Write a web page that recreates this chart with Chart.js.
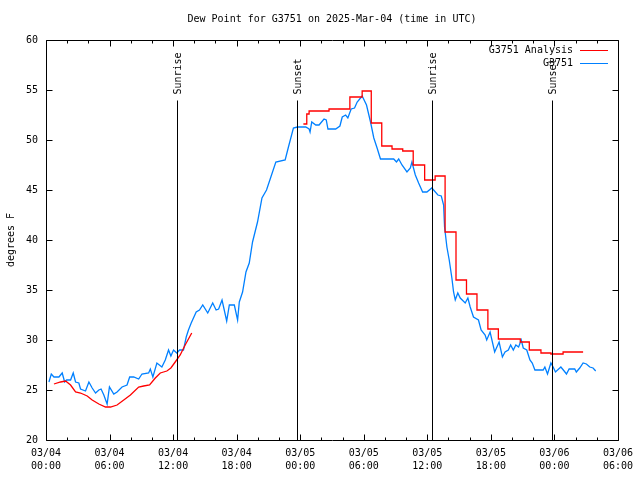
<!DOCTYPE html>
<html><head><meta charset="utf-8">
<script src="https://cdn.jsdelivr.net/npm/chart.js@4/dist/chart.umd.min.js"></script>
<style>html,body{margin:0;padding:0;background:#fff}</style>
</head><body>
<canvas id="c" width="640" height="480"></canvas>
<script>
// ---------- data ----------
const chartTitle = 'Dew Point for G3751 on 2025-Mar-04 (time in UTC)';
const yAxisTitle = 'degrees F';
const seriesNames = ['G3751 Analysis', 'G3751'];
const xTickDates = ['03/04','03/04','03/04','03/04','03/05','03/05','03/05','03/05','03/06','03/06'];
const xTickTimes = ['00:00','06:00','12:00','18:00','00:00','06:00','12:00','18:00','00:00','06:00'];
const sunLabels = ['Sunrise','Sunset','Sunrise','Sunset'];
const sunHours  = [12.33, 23.72, 36.42, 47.79];   // hours since 03/04 00:00 UTC
const sunLineTop = 54;

// observations (hours since 03/04 00:00 UTC, degrees F)
const obsHours = [0.28,0.50,0.75,1.22,1.53,1.76,1.95,2.32,2.57,2.79,3.10,3.26,3.73,4.05,4.36,4.68,4.99,5.20,5.46,5.77,5.99,6.40,6.71,7.18,7.65,7.90,8.28,8.75,9.06,9.69,9.85,10.09,10.47,10.94,11.26,11.57,11.79,12.04,12.35,12.61,12.98,13.24,13.45,13.71,14.18,14.49,14.80,15.27,15.74,16.06,16.30,16.62,17.06,17.31,17.78,18.09,18.25,18.56,18.88,19.19,19.50,19.97,20.39,20.82,21.23,21.70,22.58,22.89,23.36,23.73,24.52,24.84,24.93,25.09,25.47,25.78,26.25,26.46,26.62,27.35,27.75,27.97,28.29,28.50,28.81,29.13,29.38,29.85,30.26,30.64,30.95,31.26,31.58,32.83,33.09,33.30,33.61,34.08,34.40,34.55,34.87,35.18,35.56,35.96,36.43,37.00,37.32,37.54,37.63,37.85,38.07,38.32,38.48,38.64,38.88,39.11,39.58,39.83,40.05,40.36,40.83,41.08,41.46,41.61,41.93,42.36,42.78,43.09,43.34,43.65,43.87,44.12,44.36,44.62,44.87,45.06,45.39,45.69,45.91,46.16,46.94,47.10,47.35,47.67,47.88,48.10,48.61,48.92,49.14,49.39,49.92,50.07,50.39,50.71,51.02,51.34,51.65,51.90];
const obsValues = [25.8,26.6,26.3,26.3,26.7,25.8,26.0,26.0,26.7,25.8,25.7,25.1,24.9,25.8,25.2,24.7,25.0,25.1,24.5,23.6,25.3,24.6,24.8,25.3,25.5,26.3,26.3,26.1,26.6,26.7,27.1,26.3,27.7,27.3,28.0,29.0,28.4,29.0,28.7,29.0,29.0,30.3,31.0,31.7,32.8,33.0,33.5,32.7,33.7,33.0,33.1,34.0,31.9,33.5,33.5,32.0,33.8,34.8,36.8,37.7,39.8,41.8,44.2,45.0,46.3,47.8,48.0,49.3,51.2,51.3,51.3,51.1,50.8,51.8,51.5,51.5,52.1,52.0,51.1,51.1,51.4,52.3,52.5,52.2,53.1,53.2,53.8,54.4,53.5,51.8,50.2,49.2,48.1,48.1,47.8,48.1,47.5,46.8,47.2,47.8,46.5,45.7,44.8,44.8,45.2,44.5,44.4,43.5,41.3,39.3,38.0,36.2,34.8,34.0,34.7,34.2,33.7,34.2,33.3,32.3,32.0,31.0,30.5,30.0,30.8,28.8,29.8,28.3,28.8,29.0,29.5,29.0,29.5,29.3,30.0,29.2,29.0,28.0,27.7,27.0,27.0,27.3,26.6,27.7,27.3,26.8,27.3,26.9,26.6,27.1,27.1,26.8,27.2,27.7,27.6,27.3,27.2,26.9];

// analysis, first (smooth) part
const anaHoursA = [0.75,1.38,1.85,2.32,2.79,3.26,3.89,4.36,4.99,5.62,6.09,6.71,7.34,7.97,8.75,9.22,9.78,10.32,10.79,11.41,11.79,12.20,12.67,13.14,13.76];
const anaValuesA = [25.6,25.8,25.9,25.5,24.8,24.7,24.4,24.0,23.6,23.3,23.3,23.5,24.0,24.5,25.3,25.4,25.5,26.2,26.7,26.9,27.2,27.8,28.5,29.5,30.7];
// analysis, second (stepped) part
const anaHoursB = [24.30,24.62,24.84,26.72,28.69,29.85,30.71,31.70,32.67,33.68,34.67,35.75,36.74,37.68,38.71,39.70,40.69,41.72,42.71,44.78,45.63,46.73,47.67,48.82,50.71];
const anaValuesB = [51.6,52.6,52.9,53.1,54.3,54.9,51.7,49.4,49.1,48.9,47.5,46.0,46.4,40.8,36.0,34.6,33.0,31.1,30.1,29.8,29.0,28.7,28.6,28.8,28.8];

// ---------- style ----------
const FONT = '"DejaVu Sans Mono", "Liberation Mono", monospace';
const RED = '#ff0000';
const BLUE = '#0080ff';
const LW = 1.3;

const toXY = (xs, ys) => xs.map((h, i) => ({x: h, y: ys[i]}));

const decor = {
  id: 'decor',
  afterDatasetsDraw(chart) {
    const {ctx, chartArea: a, scales: {x, y}} = chart;
    ctx.save();
    ctx.strokeStyle = '#000';
    ctx.lineWidth = 1;
    ctx.fillStyle = '#000';
    ctx.font = '10px ' + FONT;
    const L = Math.round(a.left) + 0.5, R = Math.round(a.right) + 0.5;
    const T = Math.round(a.top) + 0.5, B = Math.round(a.bottom) + 0.5;

    // sunrise / sunset lines and labels
    sunHours.forEach((h, i) => {
      const px = Math.round(x.getPixelForValue(h)) + 0.5;
      const top = Math.round(y.getPixelForValue(sunLineTop)) + 0.5;
      ctx.beginPath(); ctx.moveTo(px, B); ctx.lineTo(px, top); ctx.stroke();
      ctx.save();
      ctx.translate(px + 1, top - 6);
      ctx.rotate(-Math.PI / 2);
      ctx.textAlign = 'left'; ctx.textBaseline = 'middle';
      ctx.fillText(sunLabels[i], 0, 0);
      ctx.restore();
    });

    // border
    ctx.beginPath();
    ctx.rect(L, T, R - L, B - T);
    ctx.stroke();

    // x ticks (inward, mirrored)
    ctx.beginPath();
    for (let h = x.min; h <= x.max + 1e-6; h += 2) {
      const px = Math.round(x.getPixelForValue(h)) + 0.5;
      const len = (Math.round(h) % 6 === 0) ? 6 : 3;
      ctx.moveTo(px, B); ctx.lineTo(px, B - len);
      ctx.moveTo(px, T); ctx.lineTo(px, T + len);
    }
    // y ticks
    for (let v = y.min; v <= y.max + 1e-6; v += 5) {
      const py = Math.round(y.getPixelForValue(v)) + 0.5;
      ctx.moveTo(L, py); ctx.lineTo(L + 6, py);
      ctx.moveTo(R, py); ctx.lineTo(R - 6, py);
    }
    ctx.stroke();

    // legend (text then line sample)
    const legendColors = [RED, BLUE];
    seriesNames.forEach((name, i) => {
      const ly = Math.round(a.top) + 10 + i * 13;
      ctx.fillStyle = '#000';
      ctx.textAlign = 'right'; ctx.textBaseline = 'middle';
      ctx.fillText(name, Math.round(a.right) - 45, ly);
      ctx.strokeStyle = legendColors[i];
      ctx.beginPath();
      ctx.moveTo(Math.round(a.right) - 38, ly + 0.5);
      ctx.lineTo(Math.round(a.right) - 10, ly + 0.5);
      ctx.stroke();
    });

    // title
    ctx.fillStyle = '#000';
    ctx.textAlign = 'center'; ctx.textBaseline = 'middle';
    ctx.fillText(chartTitle, (a.left + a.right) / 2, 19);

    // y axis title
    ctx.save();
    ctx.translate(11, (a.top + a.bottom) / 2);
    ctx.rotate(-Math.PI / 2);
    ctx.textAlign = 'center'; ctx.textBaseline = 'middle';
    ctx.fillText(yAxisTitle, 0, 0);
    ctx.restore();

    ctx.restore();
  }
};

new Chart(document.getElementById('c'), {
  type: 'line',
  data: {
    datasets: [
      {label: seriesNames[0], data: toXY(anaHoursA, anaValuesA), borderColor: RED, borderWidth: LW, pointRadius: 0, tension: 0, fill: false},
      {label: seriesNames[0], data: toXY(anaHoursB, anaValuesB), borderColor: RED, borderWidth: LW, pointRadius: 0, tension: 0, fill: false, stepped: 'before'},
      {label: seriesNames[1], data: toXY(obsHours, obsValues), borderColor: BLUE, borderWidth: LW, pointRadius: 0, tension: 0, fill: false}
    ]
  },
  options: {
    responsive: false,
    animation: false,
    devicePixelRatio: 1,
    layout: {padding: {top: 40, right: 20, left: 0, bottom: 0}},
    plugins: {legend: {display: false}, title: {display: false}, tooltip: {enabled: false}},
    scales: {
      x: {
        type: 'linear', min: 0, max: 54,
        afterFit: s => { s.height = 40; },
        grid: {display: false, drawTicks: false},
        border: {display: false},
        ticks: {
          stepSize: 6, autoSkip: false, maxRotation: 0, padding: 7, color: '#000',
          font: {family: FONT, size: 10, lineHeight: 1.3},
          callback: v => { const i = Math.round(v / 6); return [xTickDates[i], xTickTimes[i]]; }
        }
      },
      y: {
        min: 20, max: 60,
        afterFit: s => { s.width = 46; },
        grid: {display: false, drawTicks: false},
        border: {display: false},
        ticks: {stepSize: 5, padding: 8, color: '#000', font: {family: FONT, size: 10}}
      }
    }
  },
  plugins: [decor]
});
</script>
</body></html>
